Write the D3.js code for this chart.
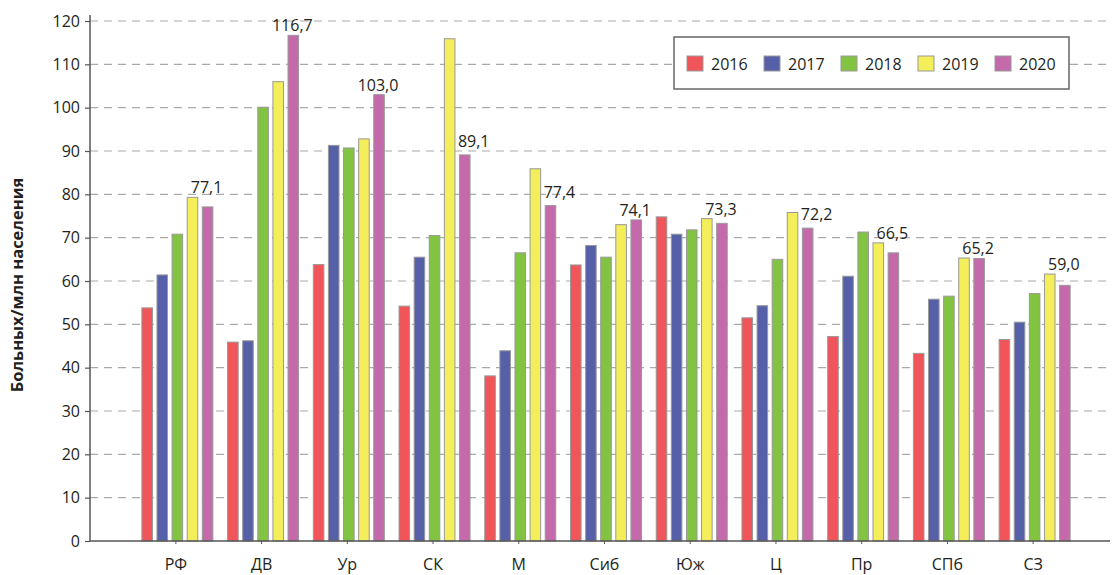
<!DOCTYPE html>
<html>
<head>
<meta charset="utf-8">
<script src="https://cdn.jsdelivr.net/npm/d3@7"></script>
<style>
	body { margin: 0; background: #fff; }
	svg { font-family: "Open Sans", sans-serif; }
</style>
</head>
<body>
<div id="chart"></div>
<script>
const regions = ['РФ', 'ДВ', 'Ур', 'СК', 'М', 'Сиб', 'Юж', 'Ц', 'Пр', 'СПб', 'СЗ'];
const years = ['2016', '2017', '2018', '2019', '2020'];
const v2016 = [53.8, 45.9, 63.8, 54.2, 38.1, 63.7, 74.8, 51.5, 47.2, 43.3, 46.5];
const v2017 = [61.4, 46.2, 91.3, 65.5, 43.9, 68.2, 70.8, 54.3, 61.1, 55.8, 50.5];
const v2018 = [70.8, 100.1, 90.7, 70.5, 66.5, 65.5, 71.8, 65.0, 71.3, 56.5, 57.1];
const v2019 = [79.3, 106.0, 92.8, 115.9, 85.9, 73.0, 74.4, 75.8, 68.8, 65.3, 61.6];
const v2020 = [77.1, 116.7, 103.0, 89.1, 77.4, 74.1, 73.3, 72.2, 66.5, 65.2, 59.0];
const yTicks = [0, 10, 20, 30, 40, 50, 60, 70, 80, 90, 100, 110, 120];
const colors = ['#ef5559', '#5660a9', '#82c341', '#f4ee5b', '#c469a9'];

const series = [v2016, v2017, v2018, v2019, v2020];
const width = 1114, height = 575;
const axisLeft = 90, axisRight = 1110, plotTop = 21, plotBottom = 541;

const svg = d3.select('#chart').append('svg')
	.attr('width', width)
	.attr('height', height);

const y = d3.scaleLinear().domain([0, 120]).range([plotBottom, plotTop]);
const x = d3.scaleBand().domain(regions).range([133, 1076]);
const xSub = d3.scaleBand().domain(years).range([-34, 37]).paddingInner(0.3);

// dashed grid
svg.append('g')
	.selectAll('line')
	.data(yTicks.filter(d => d > 0))
	.enter()
	.append('line')
	.attr('x1', axisLeft)
	.attr('x2', axisRight)
	.attr('y1', d => y(d))
	.attr('y2', d => y(d))
	.attr('stroke', '#aaa')
	.attr('stroke-width', 1.2)
	.attr('stroke-dasharray', '8,6');

// bars
const groups = svg.append('g')
	.selectAll('g')
	.data(regions)
	.enter()
	.append('g')
	.attr('transform', d => `translate(${x(d) + x.bandwidth() / 2},0)`);

groups.each(function(region, i) {
	d3.select(this).selectAll('rect')
		.data(years.map((yr, k) => ({ yr, k, value: series[k][i] })))
		.enter()
		.append('rect')
		.attr('x', d => xSub(d.yr))
		.attr('width', xSub.bandwidth())
		.attr('y', d => y(d.value))
		.attr('height', d => y(0) - y(d.value))
		.attr('fill', d => colors[d.k])
		.attr('stroke', '#999')
		.attr('stroke-width', 1);
});

// value labels for 2020
const fmt = v => d3.format('.1f')(v).replace('.', ',');
groups.append('text')
	.text((d, i) => fmt(v2020[i]))
	.attr('font-size', 16)
	.attr('fill', '#231f20')
	.each(function(d, i) {
		const pink = v2020[i], yellow = v2019[i];
		const t = d3.select(this);
		if (yellow - pink > 3) {
			t.attr('x', xSub('2019') + xSub.bandwidth() + 3)
				.attr('y', y(pink) - 8)
				.attr('text-anchor', 'start');
		} else {
			t.attr('x', xSub('2020') + xSub.bandwidth() / 2 - 1)
				.attr('y', y(Math.max(pink, yellow)) - 4)
				.attr('text-anchor', 'middle');
		}
	});

// y axis
const yAxis = d3.axisLeft(y).tickValues(yTicks).tickSize(5).tickPadding(5);
const gy = svg.append('g')
	.attr('transform', `translate(${axisLeft},0)`)
	.call(yAxis);
gy.select('.domain').remove();
gy.append('line')
	.attr('y1', plotTop - 6)
	.attr('y2', plotBottom)
	.attr('stroke', '#555')
	.attr('stroke-width', 1.5);
gy.selectAll('.tick line').attr('stroke', '#555').attr('stroke-width', 1.2);
gy.selectAll('.tick text')
	.attr('font-size', 16)
	.attr('fill', '#231f20')
	.attr('font-family', '"Open Sans", sans-serif');

// x axis
const gx = svg.append('g')
	.attr('transform', `translate(0,${plotBottom})`);
gx.append('line')
	.attr('x1', axisLeft)
	.attr('x2', axisRight)
	.attr('stroke', '#555')
	.attr('stroke-width', 1.5);
gx.selectAll('.xt')
	.data(regions)
	.enter()
	.append('line')
	.attr('class', 'xt')
	.attr('x1', d => x(d) + x.bandwidth() / 2)
	.attr('x2', d => x(d) + x.bandwidth() / 2)
	.attr('y1', 0)
	.attr('y2', 3)
	.attr('stroke', '#555');
gx.selectAll('text')
	.data(regions)
	.enter()
	.append('text')
	.text(d => d)
	.attr('x', d => x(d) + x.bandwidth() / 2)
	.attr('y', 29)
	.attr('text-anchor', 'middle')
	.attr('font-size', 16)
	.attr('fill', '#231f20');

// axis title
svg.append('text')
	.text('Больных/млн населения')
	.attr('transform', `translate(23,${(plotTop + plotBottom) / 2 + 4}) rotate(-90)`)
	.attr('text-anchor', 'middle')
	.attr('font-size', 16.5)
	.attr('font-weight', 'bold')
	.attr('fill', '#231f20');

// legend
const legend = svg.append('g').attr('transform', 'translate(674,37)');
legend.append('rect')
	.attr('width', 395)
	.attr('height', 52)
	.attr('fill', '#fff')
	.attr('stroke', '#666')
	.attr('stroke-width', 1.5);
const items = legend.selectAll('g.item')
	.data(years)
	.enter()
	.append('g')
	.attr('class', 'item')
	.attr('transform', (d, i) => `translate(${13 + i * 77},19)`);
items.append('rect')
	.attr('width', 16)
	.attr('height', 15)
	.attr('fill', (d, i) => colors[i])
	.attr('stroke', '#999')
	.attr('stroke-width', 1);
items.append('text')
	.text(d => d)
	.attr('x', 24)
	.attr('y', 13.5)
	.attr('font-size', 16)
	.attr('fill', '#231f20');
</script>
</body>
</html>
